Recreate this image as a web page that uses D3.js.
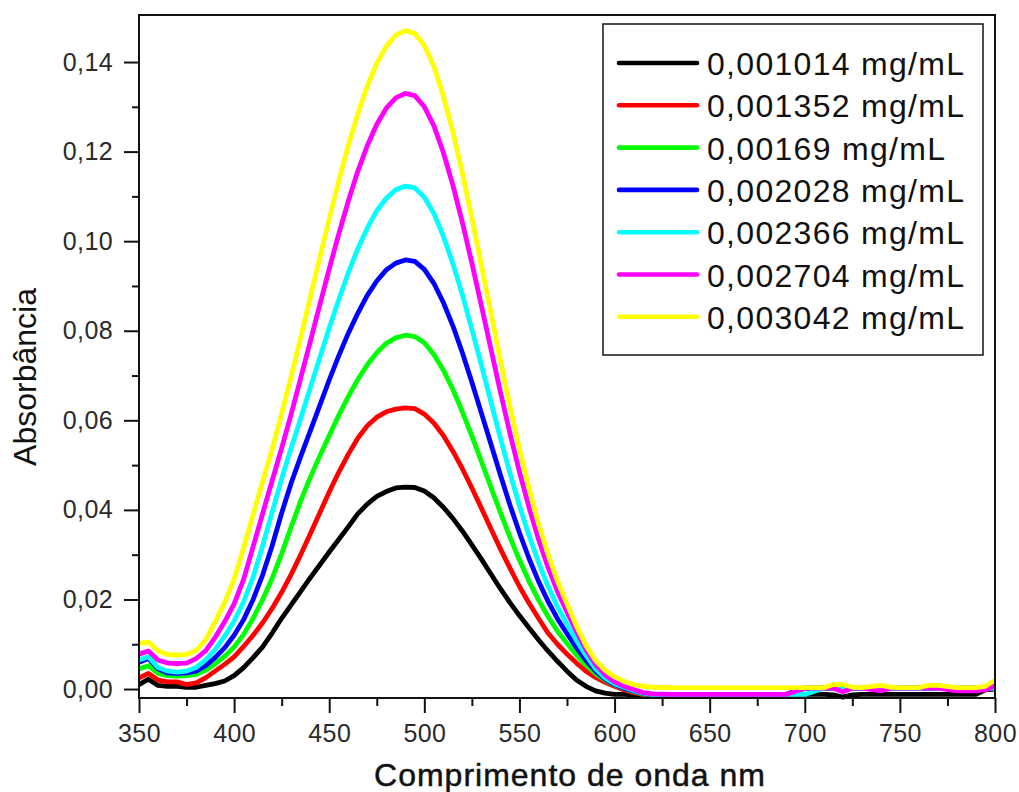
<!DOCTYPE html>
<html><head><meta charset="utf-8">
<script src="https://cdn.jsdelivr.net/npm/d3@7"></script>
<style>body{margin:0;background:#fff} svg{display:block}</style>
</head><body>
<svg id="chart" width="1019" height="792"></svg>
<script>
// ---- data ----
const wavelengths = [350,355,360,365,370,375,380,385,390,395,400,405,410,415,420,425,430,435,440,445,450,455,460,465,470,475,480,485,490,495,500,505,510,515,520,525,530,535,540,545,550,555,560,565,570,575,580,585,590,595,600,605,610,615,620,
  630,640,650,660,670,680,690,700,710,715,720,725,730,740,745,750,760,765,770,780,790,795,800];

const seriesNames = ["0,001014 mg/mL","0,001352 mg/mL","0,00169 mg/mL","0,002028 mg/mL","0,002366 mg/mL","0,002704 mg/mL","0,003042 mg/mL"];
const seriesColors = ["#000000","#ff0000","#00ff00","#0000ff","#00ffff","#ff00ff","#ffff00"];

const absBlack = [.0010,.0022,.0008,.0006,.0006,.0004,.0004,.0008,.0012,.0018,.0030,.0048,.0070,.0094,.0125,.0158,.0188,.0218,.0248,.0277,.0306,.0334,.0362,.0391,.0413,.0430,.0441,.0449,.0451,.0450,.0442,.0427,.0406,.0381,.0353,.0322,.0290,.0257,.0224,.0193,.0164,.0137,.0110,.0085,.0062,.0040,.0020,.0006,-.0004,-.0009,-.0012,-.0012,-.0013,-.0012,-.0012,
  -.0012,-.0012,-.0012,-.0012,-.0012,-.0012,-.0012,-.0012,-.0012,-.0013,-.0018,-.0013,-.0012,-.0012,-.0012,-.0012,-.0012,-.0012,-.0012,-.0012,-.0012,-.0002,.0000];
const absRed = [.0025,.0035,.0020,.0016,.0016,.0010,.0014,.0025,.0040,.0055,.0072,.0095,.0120,.0148,.0180,.0216,.0256,.0300,.0346,.0393,.0440,.0484,.0524,.0560,.0588,.0607,.0619,.0625,.0628,.0626,.0614,.0594,.0566,.0531,.0492,.0449,.0404,.0358,.0313,.0270,.0229,.0192,.0158,.0125,.0100,.0078,.0058,.0040,.0026,.0015,.0006,-.0002,-.0008,-.0012,-.0012,
  -.0012,-.0012,-.0012,-.0012,-.0012,-.0012,-.0012,.0002,.0002,.0002,.0002,.0002,.0002,.0002,.0002,.0002,.0002,.0002,.0002,.0002,.0002,.0002,.0002];
const absGreen = [.0045,.0052,.0035,.0030,.0029,.0030,.0033,.0042,.0056,.0073,.0094,.0122,.0158,.0200,.0247,.0302,.0362,.0420,.0472,.0520,.0566,.0611,.0653,.0691,.0724,.0751,.0772,.0784,.0790,.0787,.0773,.0747,.0712,.0669,.0619,.0565,.0508,.0451,.0394,.0339,.0288,.0241,.0199,.0162,.0129,.0102,.0076,.0053,.0034,.0020,.0009,.0001,-.0006,-.0011,-.0012,
  -.0012,-.0012,-.0012,-.0012,-.0012,-.0012,-.0012,.0002,.0002,.0002,.0002,.0002,.0002,.0002,.0002,.0002,.0002,.0002,.0002,.0002,.0002,.0002,.0002];
const absBlue = [.0060,.0068,.0045,.0036,.0035,.0036,.0040,.0052,.0070,.0092,.0120,.0155,.0200,.0255,.0320,.0393,.0460,.0519,.0576,.0633,.0690,.0744,.0794,.0839,.0879,.0911,.0936,.0951,.0958,.0955,.0937,.0906,.0863,.0811,.0751,.0685,.0616,.0547,.0478,.0411,.0349,.0292,.0241,.0196,.0157,.0124,.0092,.0064,.0040,.0022,.0010,.0002,-.0005,-.0010,-.0012,
  -.0012,-.0012,-.0012,-.0012,-.0012,-.0012,-.0012,.0002,.0002,.0002,.0002,.0002,.0002,.0002,.0002,.0002,.0002,.0002,.0002,.0002,.0002,.0002,.0002];
const absCyan = [.0065,.0072,.0048,.0040,.0038,.0040,.0048,.0065,.0088,.0118,.0152,.0195,.0250,.0320,.0395,.0470,.0538,.0604,.0672,.0739,.0806,.0869,.0929,.0983,.1029,.1068,.1096,.1115,.1123,.1119,.1098,.1062,.1011,.0950,.0880,.0803,.0723,.0641,.0560,.0482,.0409,.0343,.0283,.0230,.0184,.0145,.0108,.0075,.0045,.0025,.0012,.0004,-.0003,-.0009,-.0012,
  -.0012,-.0012,-.0012,-.0012,-.0012,-.0012,-.0012,-.0012,.0002,.0002,.0002,.0002,.0002,.0002,.0002,.0002,.0002,.0002,.0002,.0002,.0002,.0002,.0002];
const absMagenta = [.0078,.0085,.0065,.0058,.0057,.0058,.0068,.0085,.0115,.0150,.0190,.0245,.0318,.0392,.0465,.0538,.0614,.0694,.0775,.0857,.0938,.1016,.1089,.1156,.1213,.1261,.1297,.1320,.1330,.1325,.1300,.1258,.1198,.1125,.1042,.0951,.0856,.0759,.0663,.0571,.0485,.0406,.0335,.0272,.0218,.0172,.0128,.0088,.0055,.0032,.0016,.0006,-.0001,-.0008,-.0011,
  -.0012,-.0012,-.0012,-.0012,-.0012,-.0012,-.0012,.0002,.0002,.0002,-.0006,.0002,.0002,-.0004,.0002,.0002,.0002,.0002,.0002,-.0004,-.0004,-.0002,.0008];
const absYellow = [.0102,.0105,.0085,.0077,.0076,.0077,.0086,.0110,.0150,.0193,.0245,.0315,.0390,.0463,.0536,.0615,.0698,.0785,.0874,.0963,.1050,.1135,.1213,.1284,.1346,.1397,.1435,.1460,.1470,.1464,.1437,.1390,.1324,.1244,.1152,.1052,.0946,.0840,.0733,.0631,.0536,.0448,.0369,.0301,.0241,.0190,.0140,.0097,.0064,.0042,.0027,.0017,.0010,.0006,.0004,
  .0003,.0003,.0003,.0003,.0003,.0003,.0003,.0003,.0003,.0010,.0010,.0004,.0003,.0008,.0004,.0003,.0003,.0008,.0008,.0003,.0003,.0006,.0020];

const seriesValues = [absBlack, absRed, absGreen, absBlue, absCyan, absMagenta, absYellow];

const xTicks = [350,400,450,500,550,600,650,700,750,800];
const xTickLabels = ["350","400","450","500","550","600","650","700","750","800"];
const xMinorTicks = [375,425,475,525,575,625,675,725,775];
const yTicks = [0,0.02,0.04,0.06,0.08,0.10,0.12,0.14];
const yTickLabels = ["0,00","0,02","0,04","0,06","0,08","0,10","0,12","0,14"];
const yMinorTicks = [0.01,0.03,0.05,0.07,0.09,0.11,0.13];
const xTitle = "Comprimento de onda nm";
const yTitle = "Absorbância";

// ---- layout ----
const svg = d3.select("#chart");
const L = 139, R = 995, T = 15, B = 698;
const x = d3.scaleLinear().domain([350, 800]).range([L, R]);
const y = d3.scaleLinear().domain([-0.002, 0.1505]).range([B, T]);
const font = "'Liberation Sans', Arial, sans-serif";

// curves
const line = d3.line().x(d => x(d[0])).y(d => y(d[1]));
const gCurves = svg.append("g");
seriesValues.forEach((vals, i) => {
  const pts = wavelengths.map((w, j) => [w, vals[j]]);
  gCurves.append("path").datum(pts)
    .attr("d", line).attr("fill", "none")
    .attr("stroke", seriesColors[i]).attr("stroke-width", 4.8)
    .attr("stroke-linejoin", "round");
});

// axes
const axX = svg.append("g").attr("transform", `translate(0,${B})`)
  .call(d3.axisBottom(x).tickValues(xTicks).tickFormat((d, i) => xTickLabels[i]).tickSize(15).tickPadding(10));
const axXm = svg.append("g").attr("transform", `translate(0,${B})`)
  .call(d3.axisBottom(x).tickValues(xMinorTicks).tickFormat("").tickSize(8));
const axY = svg.append("g").attr("transform", `translate(${L},0)`)
  .call(d3.axisLeft(y).tickValues(yTicks).tickFormat((d, i) => yTickLabels[i]).tickSize(15).tickPadding(11));
const axYm = svg.append("g").attr("transform", `translate(${L},0)`)
  .call(d3.axisLeft(y).tickValues(yMinorTicks).tickFormat("").tickSize(7));
[axX, axXm, axY, axYm].forEach(g => {
  g.select(".domain").remove();
  g.selectAll(".tick line").attr("stroke", "#111").attr("stroke-width", 2);
  g.selectAll(".tick text").attr("fill", "#2a2a2a").style("font-family", font).style("font-size", "25px").style("letter-spacing", "0.4px");
});
axX.selectAll(".tick text").attr("dy", "0.75em");
axY.selectAll(".tick text").attr("dy", "0.32em");

// frame
svg.append("rect").attr("x", L).attr("y", T).attr("width", R - L).attr("height", B - T)
  .attr("fill", "none").attr("stroke", "#111").attr("stroke-width", 2);

// titles
svg.append("text").attr("x", 570).attr("y", 786).attr("text-anchor", "middle")
  .style("font-family", font).style("font-size", "32px").style("letter-spacing", "1px")
  .attr("fill", "#111").attr("stroke", "#111").attr("stroke-width", 0.5).text(xTitle);
svg.append("text").attr("transform", "translate(36,377) rotate(-90)").attr("text-anchor", "middle")
  .style("font-family", font).style("font-size", "32px")
  .attr("fill", "#111").text(yTitle);

// legend
const lg = svg.append("g");
lg.append("rect").attr("x", 603).attr("y", 24).attr("width", 380).attr("height", 331)
  .attr("fill", "#fff").attr("stroke", "#222").attr("stroke-width", 1.6);
seriesNames.forEach((name, i) => {
  const yy = 63 + i * 42.3;
  lg.append("line").attr("x1", 619).attr("x2", 697).attr("y1", yy).attr("y2", yy)
    .attr("stroke", seriesColors[i]).attr("stroke-width", 4.6).attr("stroke-linecap", "round");
  lg.append("text").attr("x", 707).attr("y", yy + 12)
    .style("font-family", font).style("font-size", "32px").style("letter-spacing", "1.3px")
    .attr("fill", "#111").text(name);
});
</script>
</body></html>
